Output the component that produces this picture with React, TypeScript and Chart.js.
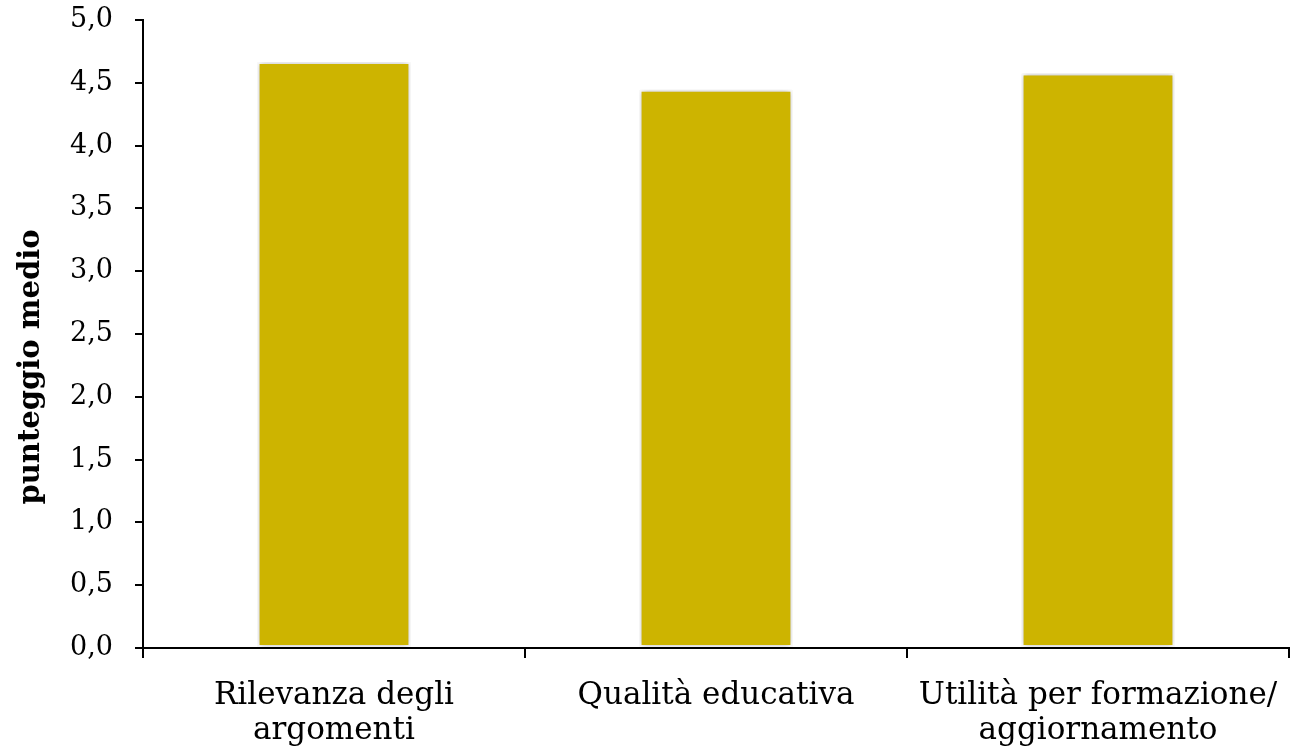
import React, { useEffect, useRef } from "react";
import { Chart, registerables } from "chart.js";

Chart.register(...registerables);

const categories: string[][] = [
  ["Rilevanza degli", "argomenti"],
  ["Qualità educativa"],
  ["Utilità per formazione/", "aggiornamento"],
];
const values: number[] = [4.665, 4.445, 4.575];
const yTitle = "punteggio medio";

const FONT = "'DejaVu Serif', 'Liberation Serif', serif";

const shadowPlugin = {
  id: "barShadow",
  beforeDatasetsDraw(chart: any) {
    const ctx = chart.ctx;
    ctx.save();
    ctx.shadowColor = "rgba(0,0,0,0.28)";
    ctx.shadowBlur = 6;
    ctx.shadowOffsetX = 0;
    ctx.shadowOffsetY = 0;
  },
  afterDatasetsDraw(chart: any) {
    chart.ctx.restore();
  },
};

// Y-axis title drawn slightly below the axis centre, as in the reference
const yTitlePlugin = {
  id: "yTitle",
  afterDraw(chart: any) {
    const ctx = chart.ctx;
    const y = chart.scales.y;
    const cy = (y.top + y.bottom) / 2 + 33;
    ctx.save();
    ctx.translate(31, cy);
    ctx.rotate(-Math.PI / 2);
    ctx.font = `bold 29px ${FONT}`;
    ctx.fillStyle = "#000";
    ctx.textAlign = "center";
    ctx.textBaseline = "middle";
    ctx.fillText(yTitle, 0, 0);
    ctx.restore();
  },
};

export default function App() {
  const ref = useRef<HTMLCanvasElement | null>(null);
  useEffect(() => {
    document.body.style.margin = "0";
    const chart = new Chart(ref.current!, {
      type: "bar",
      data: {
        labels: categories,
        datasets: [
          {
            data: values,
            backgroundColor: "#CDB400",
            borderColor: "#ffffff",
            borderWidth: 2,
            borderSkipped: false,
            categoryPercentage: 1,
            barPercentage: 0.4,
          },
        ],
      },
      options: {
        animation: false,
        responsive: false,
        maintainAspectRatio: false,
        layout: { padding: { top: 20, right: 4, bottom: 0, left: 0 } },
        plugins: { legend: { display: false }, tooltip: { enabled: false } },
        scales: {
          x: {
            offset: true,
            border: { color: "#000", width: 2 },
            grid: { display: true, drawOnChartArea: false, offset: true, tickLength: 10, color: "#000", lineWidth: 2 },
            ticks: {
              color: "#000",
              font: { family: FONT, size: 31, lineHeight: 1.13 },
              padding: 20,
              maxRotation: 0,
              autoSkip: false,
            },
            afterFit(s: any) {
              s.height = 106;
              s.paddingLeft = 0;
              s.paddingRight = 0;
            },
          },
          y: {
            min: 0,
            max: 5,
            border: { color: "#000", width: 2 },
            grid: { drawOnChartArea: false, tickLength: 8, color: "#000", lineWidth: 2 },
            ticks: {
              stepSize: 0.5,
              color: "#000",
              padding: 22,
              font: { family: FONT, size: 27 },
              callback: (v: any) => Number(v).toFixed(1).replace(".", ","),
            },
            afterFit(s: any) {
              s.width = 143;
              s.paddingTop = 0;
              s.paddingBottom = 0;
            },
          },
        },
      },
      plugins: [shadowPlugin, yTitlePlugin],
    });
    return () => chart.destroy();
  }, []);
  return (
    <div style={{ position: "fixed", left: 0, top: 0, width: 1293, height: 754 }}>
      <canvas ref={ref} width={1293} height={754} />
    </div>
  );
}
